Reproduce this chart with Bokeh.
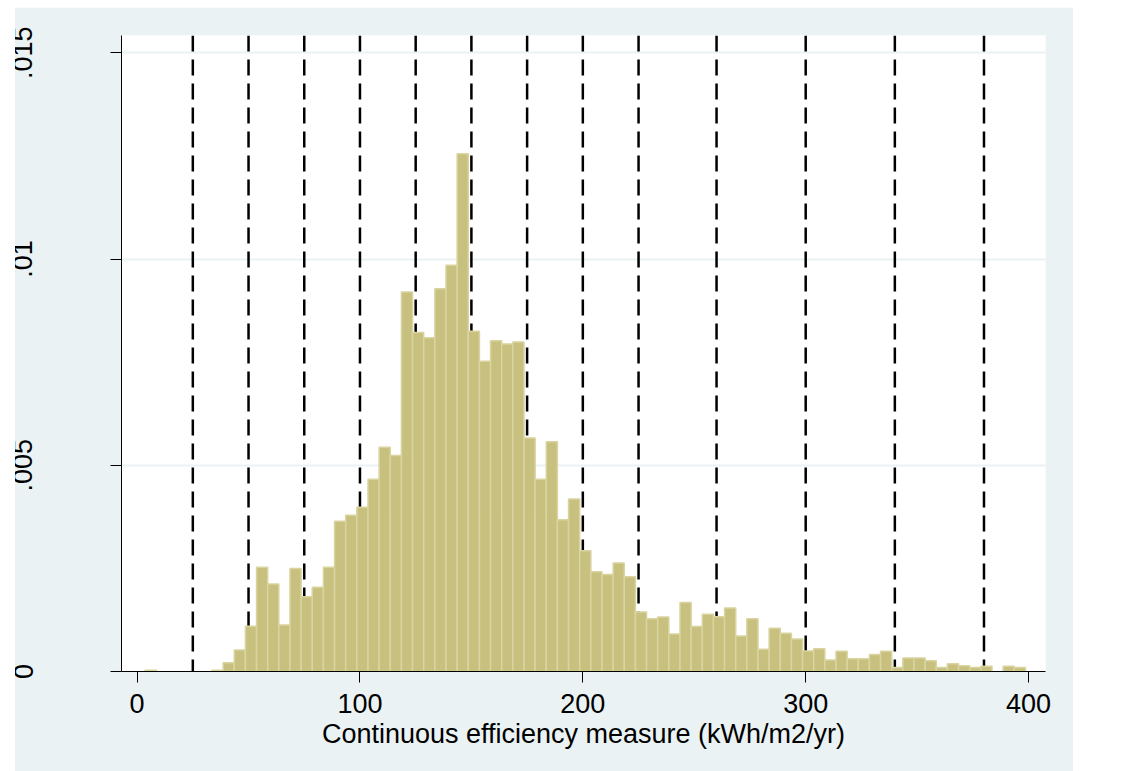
import numpy as np
from bokeh.plotting import figure
from bokeh.models import FixedTicker
from bokeh.embed import file_html
from bokeh.resources import INLINE

# ---- data ----
bin_start = 3.6
bin_width = 5.0
density = [
    0.00003, 0, 0, 0, 0, 0, 0.00003, 0.00021, 0.00052, 0.00110,
    0.00253, 0.00212, 0.00113, 0.00250, 0.00181, 0.00204, 0.00253, 0.00364, 0.00379, 0.00398,
    0.00466, 0.00544, 0.00524, 0.00920, 0.00822, 0.00809, 0.00928, 0.00985, 0.01255, 0.00825,
    0.00752, 0.00802, 0.00794, 0.00799, 0.00566, 0.00466, 0.00557, 0.00368, 0.00418, 0.00293,
    0.00242, 0.00235, 0.00263, 0.00230, 0.00144, 0.00128, 0.00132, 0.00091, 0.00167, 0.00109,
    0.00139, 0.00133, 0.00154, 0.00086, 0.00128, 0.00054, 0.00105, 0.00093, 0.00079, 0.00050,
    0.00055, 0.00028, 0.00049, 0.00031, 0.00031, 0.00041, 0.00049, 0.00010, 0.00033, 0.00033,
    0.00026, 0.00010, 0.00019, 0.00014, 0.00010, 0.00013, 0, 0.00013, 0.00010,
]
cut_points = [25, 50, 75, 100, 125, 150, 175, 200, 225, 260, 300, 340, 380]
x_ticks = [0, 100, 200, 300, 400]
y_ticks = [0, 0.005, 0.01, 0.015]
y_tick_labels = ["0", ".005", ".01", ".015"]
x_title = "Continuous efficiency measure (kWh/m2/yr)"

# ---- derived ----
dens = np.array(density)
lefts = bin_start + bin_width * np.arange(len(dens))
rights = lefts + bin_width
mask = dens > 0

Y_TOP = 0.01542
FONT = "Liberation Sans"
FS = "27px"
BG = "#EAF2F3"
SHIFT = 14  # extra left border, clipped away so the grey box still starts at x=15

p = figure(width=1058 + SHIFT, height=764, x_range=(-7.0, 407.6), y_range=(0, Y_TOP),
           output_backend="svg", toolbar_location=None,
           min_border_left=106 + SHIFT, min_border_right=28, min_border_top=28, min_border_bottom=100)
p.margin = (7, 0, 0, 15 - SHIFT)
p.styles = {"clip-path": f"inset(0px 0px 0px {SHIFT}px)"}
p.background_fill_color = "white"
p.border_fill_color = BG
p.outline_line_color = None

p.xgrid.visible = False
p.ygrid.ticker = FixedTicker(ticks=y_ticks[1:])
p.ygrid.grid_line_color = BG
p.ygrid.grid_line_width = 2

# dashed cut lines (drawn under bars)
p.segment(x0=cut_points, y0=[Y_TOP] * len(cut_points), x1=cut_points, y1=[0] * len(cut_points),
          line_color="black", line_width=2.5, line_dash="16 8")

# histogram bars
p.quad(left=lefts[mask], right=rights[mask], top=dens[mask], bottom=0,
       fill_color="#C8C07E", line_color="#D9D4A0", line_width=1.5)

for ax in (p.xaxis, p.yaxis):
    ax.axis_line_color = "black"
    ax.axis_line_width = 1
    ax.major_tick_line_color = "black"
    ax.major_tick_out = 11
    ax.major_tick_in = 0
    ax.minor_tick_line_color = None
    ax.major_label_text_font = FONT
    ax.major_label_text_font_size = FS
    ax.major_label_text_color = "black"

p.xaxis.ticker = FixedTicker(ticks=x_ticks)
p.xaxis.major_label_standoff = 11
p.xaxis.axis_label = x_title
p.xaxis.axis_label_text_font = FONT
p.xaxis.axis_label_text_font_size = FS
p.xaxis.axis_label_text_font_style = "normal"
p.xaxis.axis_label_text_color = "black"
p.xaxis.axis_label_standoff = 3

p.yaxis.ticker = FixedTicker(ticks=y_ticks)
p.yaxis.major_label_overrides = {t: s for t, s in zip(y_ticks, y_tick_labels)}
p.yaxis.major_label_orientation = "vertical"
p.yaxis.major_label_standoff = 64 + SHIFT

open("out.html", "w").write(file_html(p, INLINE))
